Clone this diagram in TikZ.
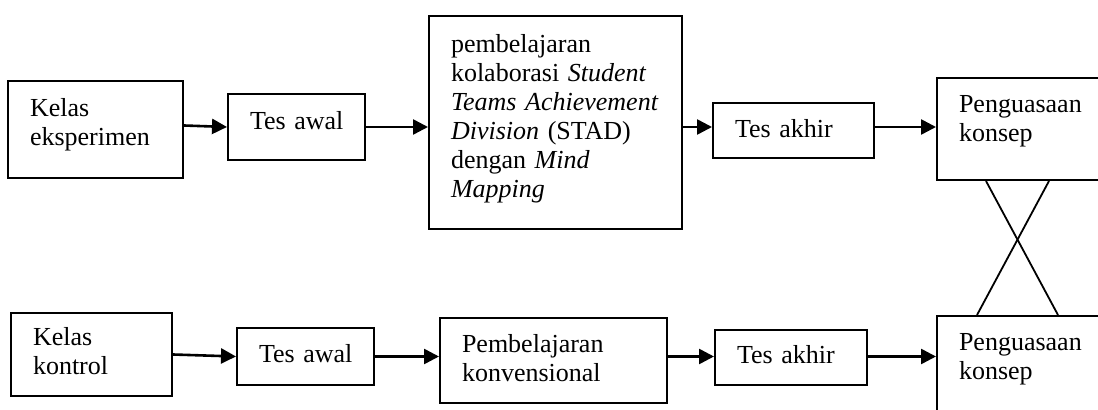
\documentclass[tikz,border=0pt]{standalone}
\usepackage{fontspec}
\setmainfont{Liberation Serif}
\usetikzlibrary{arrows.meta,calc}
\begin{document}
\begin{tikzpicture}[x=0.5pt,y=-0.5pt,
  box/.style={draw,line width=1pt,rectangle,anchor=north west,inner xsep=11pt,inner ysep=0pt,
    align=left,font=\fontsize{13}{14.5}\selectfont,minimum height=0pt,minimum width=0pt},
  arr/.style={line width=1.3pt,-{Triangle[length=7.5pt,width=7.5pt]}},
  cross/.style={line width=0.9pt}]
\clip (0,0) rectangle (1098,410);
% top row
\node[box,text width=65.5pt,text height=18pt,text depth=30.5pt] (ke) at (7,80) {Kelas\\\mbox{eksperimen}};
\node[box,text width=46.5pt,text height=18pt,text depth=15pt] (ta1) at (227,93) {\mbox{Tes awal}};
\node[box,text width=104.5pt,text height=18.5pt,text depth=88pt] (stad) at (428,15)
  {pembelajaran\\\mbox{kolaborasi \textit{Student}}\\\mbox{\textit{Teams Achievement}}\\\mbox{\textit{Division} (STAD)}\\\mbox{dengan \textit{Mind}}\\\textit{Mapping}};
\node[box,text width=58.5pt,text height=17.5pt,text depth=10pt] (tk1) at (712,102) {\mbox{Tes akhir}};
\node[box,text width=61pt,text height=17.5pt,text depth=33.5pt] (pk1) at (936,77) {\mbox{Penguasaan}\\konsep};
% bottom row
\node[box,text width=58.5pt,text height=16.5pt,text depth=25pt] (kk) at (10,312) {Kelas\\kontrol};
\node[box,text width=46.5pt,text height=17.5pt,text depth=11pt] (ta2) at (236,327) {\mbox{Tes awal}};
\node[box,text width=91.5pt,text height=17.5pt,text depth=25pt] (pk) at (439,317) {\mbox{Pembelajaran}\\\mbox{konvensional}};
\node[box,text width=54pt,text height=17pt,text depth=10.5pt] (tk2) at (714,329) {\mbox{Tes akhir}};
\node[box,text width=61pt,text height=17.5pt,text depth=33.5pt] (pk2) at (936,315) {\mbox{Penguasaan}\\konsep};
% arrows top
\draw[arr] ([yshift=2pt]ke.east) -- (ta1.west);
\draw[arr] (ta1.east) -- (ta1.east -| stad.west);
\draw[arr] (stad.east |- ta1.east) -- (ta1.east -| tk1.west);
\draw[arr] (tk1.east |- ta1.east) -- (ta1.east -| pk1.west);
% arrows bottom
\draw[arr] (kk.east) -- (ta2.west);
\draw[arr] (ta2.east) -- (ta2.east -| pk.west);
\draw[arr] (pk.east |- ta2.east) -- (ta2.east -| tk2.west);
\draw[arr] (tk2.east |- ta2.east) -- (ta2.east -| pk2.west);
% cross
\draw[cross] ($(pk1.south west)+(50,0)$) -- ($(pk2.north west)+(122,0)$);
\draw[cross] ($(pk1.south west)+(113,0)$) -- ($(pk2.north west)+(41,0)$);
\end{tikzpicture}
\end{document}
